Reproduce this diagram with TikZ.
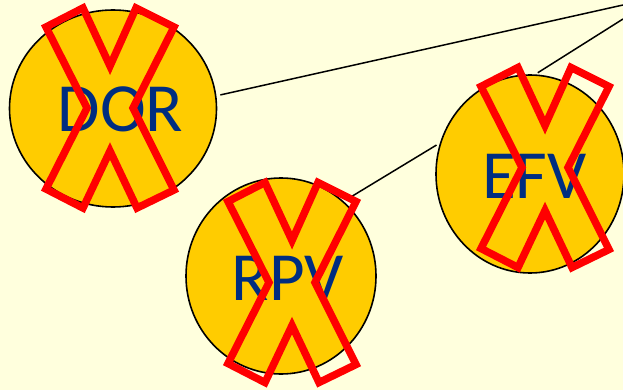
\documentclass[tikz,border=0pt]{standalone}
\usepackage{fontspec}
\setmainfont{Carlito}
\usetikzlibrary{shapes.geometric}
\definecolor{paper}{RGB}{255,255,221}
\definecolor{disk}{RGB}{255,204,0}
\definecolor{ink}{RGB}{0,45,128}
\definecolor{strike}{RGB}{255,0,0}
\tikzset{
  disc/.style={ellipse, draw=black, line width=1.6pt, fill=disk, inner sep=0pt},
  acronym/.style={anchor=base, text=ink, font=\fontsize{69}{69}\selectfont, inner sep=0pt},
  link/.style={draw=black, line width=1.5pt},
  redx/.pic={
    \draw[strike, line width=7.5pt, line join=miter]
      (-64,-81) -- (-27,-100) -- (0,-42) -- (26,-100) -- (64,-81) -- (23,0)
      -- (64,82) -- (27,100) -- (0,43) -- (-27,100) -- (-64,81) -- (-23,0) -- cycle;
  }
}
\begin{document}
\begin{tikzpicture}[x=1pt, y=-1pt]
  \useasboundingbox (0,0) rectangle (623,390);
  \clip (0,0) rectangle (623,390);
  \fill[paper] (0,0) rectangle (623,390);

  % discs
  \node[disc, minimum width=207pt, minimum height=197pt] (dor) at (113,108.5) {};
  \node[disc, minimum width=190pt, minimum height=196pt] (rpv) at (281,276) {};
  \node[disc, minimum width=188pt, minimum height=198pt] (efv) at (530,174) {};

  % labels
  \node[acronym] (dorlabel) at (120.5,132) {DOR};
  \node[acronym] (rpvlabel) at (287.5,300) {RPV};
  \node[acronym] (efvlabel) at (534.5,198) {EFV};

  % connectors
  \coordinate (farA) at (623,5);
  \coordinate (farB) at (623,19);
  \draw[link, shorten <=4pt] (dor.7) -- (farA);
  \draw[link, shorten <=3pt] (efv.87) -- (farB);
  \draw[link, shorten <=9pt, shorten >=4pt] (rpv.50) -- (efv.161);

  % strike-through crosses
  \pic at (110,108) {redx};
  \pic at (292,282.5) {redx};
  \pic at (545,167.5) {redx};
\end{tikzpicture}
\end{document}
